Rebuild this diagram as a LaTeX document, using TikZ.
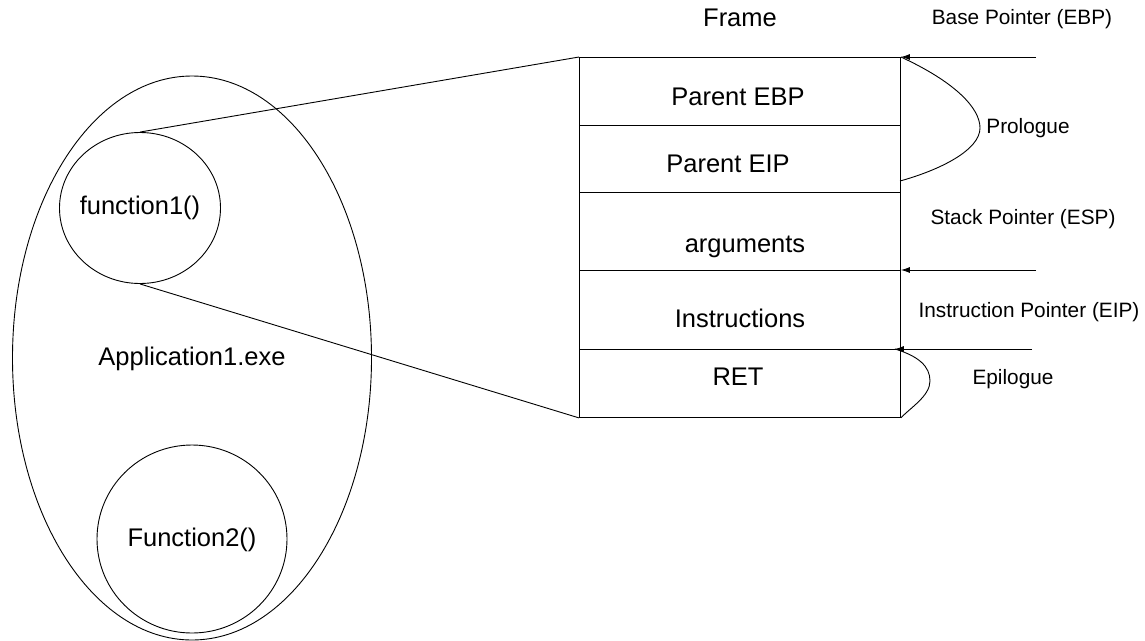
\documentclass[tikz,border=0pt]{standalone}
\usepackage{fontspec}
\setmainfont{Liberation Sans}
\usetikzlibrary{shapes.geometric,arrows.meta}
\begin{document}
\begin{tikzpicture}[x=1pt,y=-1pt,
  every path/.style={line width=0.9pt},
  oval/.style={draw,ellipse,inner sep=0pt},
  row/.style={draw,rectangle,anchor=north west,inner sep=0pt,minimum width=321pt},
  big/.style={font=\fontsize{25.5}{30}\selectfont},
  small/.style={font=\fontsize{20.8}{25}\selectfont},
  ptr/.style={-{Latex[length=9pt,width=6pt]}}]
\useasboundingbox (0,0) rectangle (1145,640);
% application ellipse and functions
\node[oval,minimum width=359pt,minimum height=564pt] (app) at (192,358) {};
\node[oval,minimum width=161pt,minimum height=151pt] (f1) at (140,208) {};
\node[oval,minimum width=190pt,minimum height=188pt] (f2) at (192,539) {};
\node[big] (f1t) at (140,208) {function1()};
\node[big] (appt) at (192,359) {Application1.exe};
\node[big] (f2t) at (192,540) {Function2()};
% frame rows
\node[row,minimum height=68pt] (r1) at (579,57) {};
\node[row,minimum height=67pt] (r2) at (579,125) {};
\node[row,minimum height=78pt] (r3) at (579,192) {};
\node[row,minimum height=79pt] (r4) at (579,270) {};
\node[row,minimum height=68pt] (r5) at (579,349) {};
\node[big] (frame) at (740,18) {Frame};
\node[big] (t1) at (738,97) {Parent EBP};
\node[big] (t2) at (728,164) {Parent EIP};
\node[big] (t3) at (745,247) {arguments};
\node[big] (t4) at (740,318) {Instructions};
\node[big] (t5) at (738,377) {RET};
% zoom lines
\draw (f1.north) -- (r1.north west);
\draw (f1.south) -- (r5.south west);
% pointers
\coordinate (bpe) at (1036,57);
\coordinate (spe) at (1036,270);
\coordinate (ipe) at (1032,349);
\draw[ptr] (bpe) -- (r1.north east);
\draw[ptr] (spe) -- (r4.north east);
\draw[ptr] (ipe) -- ([xshift=-6pt]r5.north east);
\node[small] (bpl) at (1022,19) {Base Pointer (EBP)};
\node[small] (spl) at (1023,219) {Stack Pointer (ESP)};
\node[small] (ipl) at (1029,312) {Instruction Pointer (EIP)};
% prologue / epilogue
\coordinate (pe) at (900,181);
\coordinate (pa) at (980,128);
\coordinate (ea) at (930,381);
\draw (r1.north east) .. controls (955,82) and (980,108) .. (pa)
      .. controls (980,150) and (940,170) .. (pe);
\draw ([xshift=-6pt]r5.north east) .. controls (918,356) and (930,366) .. (ea)
      .. controls (930,396) and (910,408) .. (r5.south east);
\node[small] (prl) at (1028,128) {Prologue};
\node[small] (epl) at (1013,379) {Epilogue};
\end{tikzpicture}
\end{document}
